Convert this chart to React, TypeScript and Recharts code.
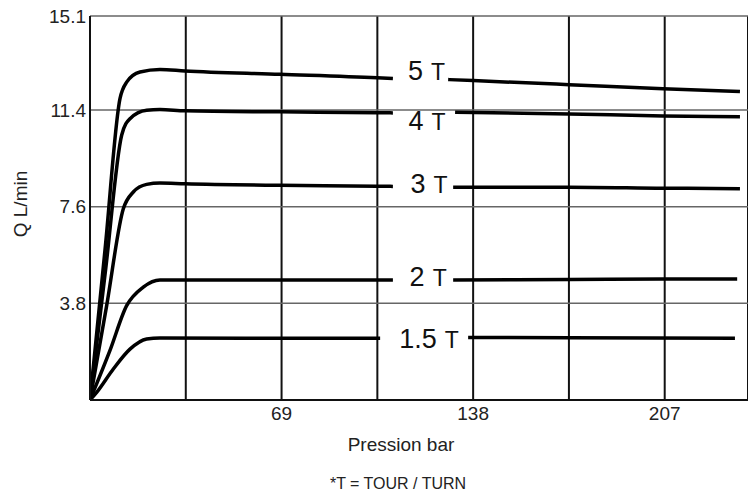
import React from "react";
import {
  LineChart,
  Line,
  XAxis,
  YAxis,
  CartesianGrid,
  ReferenceDot,
  Label,
} from "recharts";

const FONT = '"Liberation Sans", Arial, sans-serif';

// axes
const pressTicks = [0, 34.5, 69, 103.5, 138, 172.5, 207];
const pressLabels = [69, 138, 207];
const flowTicks = [0, 3.8, 7.6, 11.4, 15.1];

// curves (pression bar -> Q L/min), null = gap behind the label
const curve5T = [
  { p: 0, q: 0 },
  { p: 5.4, q: 5.9 },
  { p: 10.8, q: 11.85 },
  { p: 13.2, q: 12.5 },
  { p: 18, q: 12.9 },
  { p: 25.2, q: 13.0 },
  { p: 34.2, q: 12.94 },
  { p: 68.4, q: 12.81 },
  { p: 103.4, q: 12.67 },
  { p: 109.1, q: 12.64 },
  { p: 119, q: null },
  { p: 129, q: 12.6 },
  { p: 138, q: 12.56 },
  { p: 172.6, q: 12.4 },
  { p: 206.4, q: 12.24 },
  { p: 234.1, q: 12.13 },
];

const curve4T = [
  { p: 0, q: 0 },
  { p: 5.7, q: 5.2 },
  { p: 11.4, q: 10.41 },
  { p: 14.4, q: 11.06 },
  { p: 20.4, q: 11.39 },
  { p: 25.2, q: 11.42 },
  { p: 34.2, q: 11.37 },
  { p: 68.4, q: 11.33 },
  { p: 103.4, q: 11.3 },
  { p: 109.1, q: 11.29 },
  { p: 120, q: null },
  { p: 131.5, q: 11.32 },
  { p: 172.6, q: 11.25 },
  { p: 206.4, q: 11.17 },
  { p: 234.1, q: 11.14 },
];

const curve3T = [
  { p: 0, q: 0 },
  { p: 6, q: 3.71 },
  { p: 12, q: 7.52 },
  { p: 15.6, q: 8.18 },
  { p: 20.4, q: 8.48 },
  { p: 25.2, q: 8.53 },
  { p: 34.2, q: 8.5 },
  { p: 68.4, q: 8.44 },
  { p: 103.4, q: 8.41 },
  { p: 109.1, q: 8.4 },
  { p: 120, q: null },
  { p: 130.8, q: 8.37 },
  { p: 172.6, q: 8.37 },
  { p: 206.4, q: 8.33 },
  { p: 234.1, q: 8.31 },
];

const curve2T = [
  { p: 0, q: 0 },
  { p: 7.2, q: 1.95 },
  { p: 13.2, q: 3.71 },
  { p: 19.2, q: 4.44 },
  { p: 25.2, q: 4.72 },
  { p: 34.2, q: 4.72 },
  { p: 68.4, q: 4.72 },
  { p: 109.1, q: 4.72 },
  { p: 120, q: null },
  { p: 130.8, q: 4.72 },
  { p: 172.6, q: 4.74 },
  { p: 206.4, q: 4.76 },
  { p: 233.1, q: 4.76 },
];

const curve15T = [
  { p: 0, q: 0 },
  { p: 2.4, q: 0.3 },
  { p: 8.4, q: 1.22 },
  { p: 14.4, q: 2.0 },
  { p: 20.4, q: 2.4 },
  { p: 25.2, q: 2.44 },
  { p: 68.4, q: 2.43 },
  { p: 104.5, q: 2.43 },
  { p: 120, q: null },
  { p: 136.2, q: 2.46 },
  { p: 172.6, q: 2.45 },
  { p: 232.3, q: 2.43 },
];

const turnLabels = [
  { num: "5", p: 121.2, q: 12.96 },
  { num: "4", p: 121.4, q: 11.0 },
  { num: "3", p: 122.1, q: 8.52 },
  { num: "2", p: 121.8, q: 4.88 },
  { num: "1.5", p: 122.1, q: 2.44 },
];

const curves = [curve5T, curve4T, curve3T, curve2T, curve15T];

function TurnLabel(props: any) {
  const { viewBox, num } = props;
  const cx = viewBox.x + viewBox.width / 2;
  const cy = viewBox.y + viewBox.height / 2;
  return (
    <text
      x={cx}
      y={cy + 10}
      textAnchor="middle"
      fill="#111"
      fontFamily={FONT}
    >
      <tspan fontSize={27}>{num}</tspan>
      <tspan fontSize={23} dx={8}>T</tspan>
    </text>
  );
}

export default function App() {
  return (
    <div style={{ position: "absolute", left: 0, top: 0, width: 748, height: 492, background: "#fff" }}>
      <LineChart
        width={748}
        height={492}
        margin={{ top: 16, right: 0, bottom: 0, left: 0 }}
      >
        <CartesianGrid horizontal={false} stroke="#111" strokeWidth={2} />
        <CartesianGrid vertical={false} stroke="#666" strokeWidth={1.5} />
        <XAxis
          type="number"
          dataKey="p"
          domain={[0, 237]}
          ticks={pressTicks}
          tickFormatter={(v: number) => (pressLabels.includes(v) ? String(v) : "")}
          tickLine={false}
          tickSize={0}
          tickMargin={7}
          axisLine={{ stroke: "#111", strokeWidth: 2 }}
          tick={{ fill: "#222", fontSize: 19, fontFamily: FONT }}
          height={92}
          allowDataOverflow
        >
          <Label
            content={(lp: any) => (
              <text
                x={lp.viewBox.x + 311}
                y={lp.viewBox.y + 44}
                textAnchor="middle"
                dominantBaseline="central"
                fill="#222"
                fontSize={19}
                fontFamily={FONT}
              >
                Pression bar
              </text>
            )}
          />
          <Label
            content={(lp: any) => (
              <text
                x={lp.viewBox.x + 308}
                y={lp.viewBox.y + 83}
                textAnchor="middle"
                dominantBaseline="central"
                fill="#222"
                fontSize={16}
                fontFamily={FONT}
              >
                *T = TOUR / TURN
              </text>
            )}
          />
        </XAxis>
        <YAxis
          type="number"
          domain={[0, 15.1]}
          ticks={flowTicks}
          tickFormatter={(v: number) => (v === 0 ? "" : String(v))}
          tickLine={false}
          tickSize={0}
          tickMargin={4}
          axisLine={{ stroke: "#111", strokeWidth: 2 }}
          tick={{ fill: "#222", fontSize: 19, fontFamily: FONT }}
          width={90}
          allowDataOverflow
        >
          <Label
            content={(lp: any) => {
              const cx = lp.viewBox.x + 20;
              const cy = lp.viewBox.y + lp.viewBox.height / 2 - 4;
              return (
                <text
                  x={cx}
                  y={cy}
                  transform={`rotate(-90, ${cx}, ${cy})`}
                  textAnchor="middle"
                  dominantBaseline="central"
                  fill="#222"
                  fontSize={19}
                  fontFamily={FONT}
                >
                  Q L/min
                </text>
              );
            }}
          />
        </YAxis>
        {curves.map((c, i) => (
          <Line
            key={i}
            data={c}
            dataKey="q"
            type="monotone"
            stroke="#000"
            strokeWidth={3.5}
            dot={false}
            activeDot={false}
            connectNulls={false}
            isAnimationActive={false}
          />
        ))}
        {turnLabels.map((t) => (
          <ReferenceDot
            key={t.num}
            x={t.p}
            y={t.q}
            r={1}
            fill="none"
            stroke="none"
            label={(lp: any) => <TurnLabel {...lp} num={t.num} />}
          />
        ))}
      </LineChart>
    </div>
  );
}
